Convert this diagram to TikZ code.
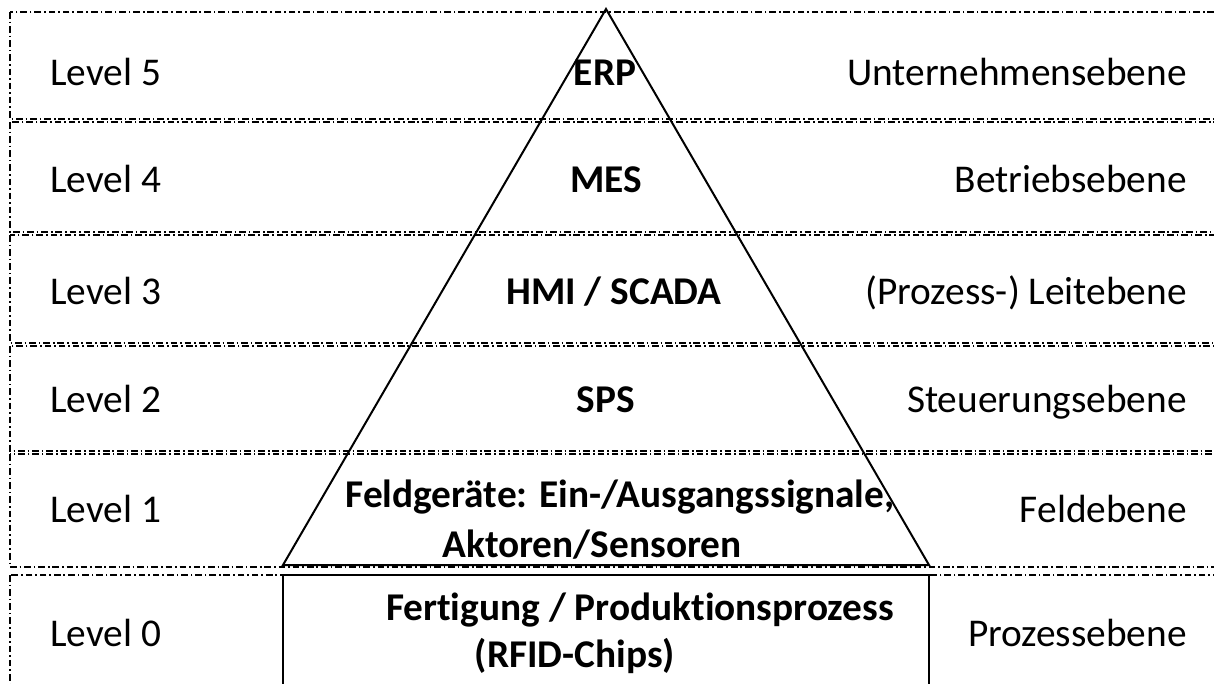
\documentclass[tikz,border=0pt]{standalone}
\usepackage{fontspec}
\setmainfont[Ligatures=NoCommon]{Carlito}

\begin{document}
\begin{tikzpicture}[x=0.75pt, y=-0.75pt,
    row/.style={line width=0.8pt, dash pattern=on 5pt off 2.2pt on 1.2pt off 2.2pt},
    lvl/.style={anchor=base west, inner sep=0pt, font=\fontsize{29.5}{35}\selectfont},
    layer/.style={anchor=base east, inner sep=0pt, font=\fontsize{29.5}{35}\selectfont},
    sys/.style={anchor=base, inner sep=0pt, font=\fontsize{29.5}{35}\selectfont\bfseries}]
  \clip (0, 0) rectangle (1214, 683);

  % levels as dash-dotted strips
  \draw[row] (10, 12) rectangle (1240, 119);
  \draw[row] (10, 122) rectangle (1240, 232);
  \draw[row] (10, 235) rectangle (1240, 343);
  \draw[row] (10, 346) rectangle (1240, 451);
  \draw[row] (10, 454) rectangle (1240, 567);
  \draw[row] (10, 575) rectangle (1240, 720);

  % pyramid and process box
  \draw[line width=1.5pt, line join=miter] (606, 9) -- (929, 565) -- (283, 565) -- cycle;
  \draw[line width=1.5pt] (283, 700) -- (283, 575) -- (929, 575) -- (929, 700);

  \node[lvl] (l5) at (50, 85) {Level 5};
  \node[lvl] (l4) at (50, 192) {Level 4};
  \node[lvl] (l3) at (50, 304) {Level 3};
  \node[lvl] (l2) at (50, 412) {Level 2};
  \node[lvl] (l1) at (50, 522) {Level 1};
  \node[lvl] (l0) at (50, 646) {Level 0};

  \node[sys] (erp) at (605, 85) {ERP};
  \node[sys] (mes) at (606, 192) {MES};
  \node[sys] (scada) at (614, 304) {HMI / SCADA};
  \node[sys] (sps) at (606, 412) {SPS};
  \node[sys] (feld) at (620, 507) {Feldgeräte: Ein-/Ausgangssignale,};
  \node[sys] (akt) at (592, 557) {Aktoren/Sensoren};
  \node[sys] (fert) at (640, 620) {Fertigung / Produktionsprozess};
  \node[sys] (rfid) at (575, 667) {(RFID-Chips)};

  \node[layer] (e5) at (1187, 85) {Unternehmensebene};
  \node[layer] (e4) at (1187, 192) {Betriebsebene};
  \node[layer] (e3) at (1187, 304) {(Prozess-) Leitebene};
  \node[layer] (e2) at (1187, 412) {Steuerungsebene};
  \node[layer] (e1) at (1187, 522) {Feldebene};
  \node[layer] (e0) at (1187, 646) {Prozessebene};
\end{tikzpicture}
\end{document}
